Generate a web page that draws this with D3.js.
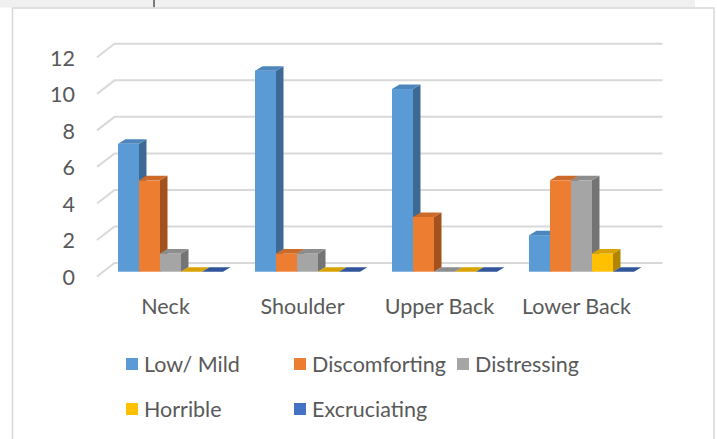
<!DOCTYPE html>
<html>
<head>
<meta charset="utf-8">
<script src="https://cdn.jsdelivr.net/npm/d3@7/dist/d3.min.js"></script>
<style>
  html, body { margin: 0; padding: 0; background: #ffffff; }
  svg { display: block; }
  text { font-family: Lato, "Open Sans", sans-serif; fill: #595959; }
</style>
</head>
<body>
<svg id="chart" width="717" height="439"></svg>
<script>
// Pain severity counts per body region
const categories = ["Neck", "Shoulder", "Upper Back", "Lower Back"];
const seriesNames = ["Low/ Mild", "Discomforting", "Distressing", "Horrible", "Excruciating"];
const lowMild       = [7, 11, 10, 2];
const discomforting = [5, 1, 3, 5];
const distressing   = [1, 1, 0, 5];
const horrible      = [0, 0, 0, 1];
const excruciating  = [0, 0, 0, 0];
const yTicks = [0, 2, 4, 6, 8, 10, 12];

const seriesValues = [lowMild, discomforting, distressing, horrible, excruciating];

// front, top and side shades of each series
const faceColors = [
  { front: "#5b9bd5", top: "#4d86bd", side: "#3d6a94" },
  { front: "#ed7d31", top: "#cc6a29", side: "#a4521d" },
  { front: "#a5a5a5", top: "#8d8d8d", side: "#747474" },
  { front: "#ffc000", top: "#d8a300", side: "#b08500" },
  { front: "#4472c4", top: "#30559a", side: "#2c4f8c" }
];

const svg = d3.select("#chart");

// window chrome above the chart frame
svg.append("rect").attr("x", 0).attr("y", 0).attr("width", 695).attr("height", 7.5).attr("fill", "#f0f0f0");
svg.append("rect").attr("x", 153).attr("y", 0).attr("width", 2).attr("height", 7.5).attr("fill", "#7a7a7a");
// chart frame
svg.append("rect").attr("x", 12.5).attr("y", 8).attr("width", 701.5).attr("height", 450)
  .attr("fill", "#ffffff").attr("stroke", "#d9d9d9").attr("stroke-width", 1.6);

// 3D depth of the back wall and of each column
const wallDx = 17.5, wallDy = -13.5;
const barDx = 7.5, barDy = -4.5;

const x = d3.scaleBand().domain(categories).range([97, 645]).padding(0);
const xSeries = d3.scaleBand().domain(seriesNames).range([21, 126]).padding(0);
const yAxis = d3.scaleLinear().domain([0, 12]).range([276.5, 57.3]);
const yBar = d3.scaleLinear().domain([0, 12]).range([271.7, 52.5]);

// gridlines: short diagonal on the floor edge, then across the back wall
const grid = svg.append("g");
yTicks.forEach(t => {
  const yf = yAxis(t);
  grid.append("path")
    .attr("d", `M${x.range()[0]},${yf} L${x.range()[0] + wallDx},${yf + wallDy} L${x.range()[1] + wallDx},${yf + wallDy}`)
    .attr("fill", "none").attr("stroke", "#d9d9d9").attr("stroke-width", 2);
});

// value axis labels
const axisG = svg.append("g").attr("transform", "translate(75,0)")
  .call(d3.axisLeft(yAxis).tickValues(yTicks).tickSize(0).tickPadding(0));
axisG.select(".domain").remove();
axisG.selectAll("text").attr("font-size", 21.5).attr("fill", "#595959")
  .style("font-family", "Lato, sans-serif").attr("dy", "0.36em");

// columns
const bars = svg.append("g");
categories.forEach((cat, ci) => {
  seriesNames.forEach((name, si) => {
    const v = seriesValues[si][ci];
    const c = faceColors[si];
    const x0 = x(cat) + xSeries(name);
    const w = xSeries.bandwidth();
    const yb = yBar(0);
    const yt = yBar(v);
    const g = bars.append("g");
    if (v > 0) {
      g.append("path")
        .attr("d", `M${x0 + w},${yt} L${x0 + w + barDx},${yt + barDy} L${x0 + w + barDx},${yb + barDy} L${x0 + w},${yb} Z`)
        .attr("fill", c.side);
      g.append("rect").attr("x", x0).attr("y", yt).attr("width", w).attr("height", yb - yt).attr("fill", c.front);
    }
    g.append("path")
      .attr("d", `M${x0},${yt} L${x0 + w},${yt} L${x0 + w + barDx},${yt + barDy} L${x0 + barDx},${yt + barDy} Z`)
      .attr("fill", c.top);
  });
});

// category labels
const catAxis = svg.append("g").attr("transform", "translate(0,306)")
  .call(d3.axisBottom(x).tickSize(0).tickPadding(0));
catAxis.select(".domain").remove();
catAxis.selectAll("text").attr("font-size", 21.5).attr("fill", "#595959")
  .style("font-family", "Lato, sans-serif").attr("dy", "0.36em");

// legend
const legendPos = [
  { x: 126, y: 364 }, { x: 294, y: 364 }, { x: 457, y: 364 },
  { x: 126, y: 409 }, { x: 294, y: 409 }
];
const legend = svg.append("g");
seriesNames.forEach((name, i) => {
  const p = legendPos[i];
  legend.append("rect").attr("x", p.x).attr("y", p.y - 6).attr("width", 12).attr("height", 12)
    .attr("fill", faceColors[i].front);
  legend.append("text").attr("x", p.x + 18).attr("y", p.y).attr("dy", "0.36em")
    .attr("font-size", 21.5).text(name);
});
</script>
</body>
</html>
